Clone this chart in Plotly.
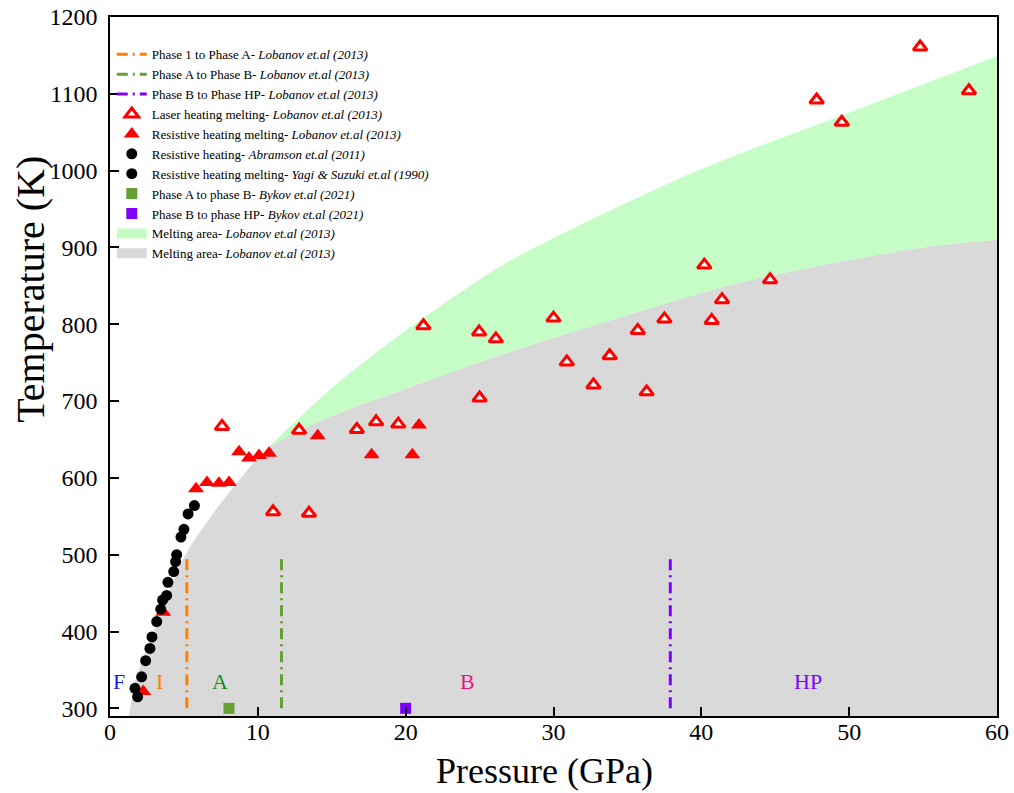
import plotly.graph_objects as go

FONT = "Liberation Serif"

# Laser heating melting - Lobanov (open triangles)
laser_p = [7.58, 11.03, 13.46, 12.79, 16.7, 18.0, 19.5, 21.2, 24.97, 25.0, 26.1, 30.0, 30.9, 32.7,
           33.8, 35.7, 36.3, 37.5, 40.2, 40.7, 41.4, 44.65, 47.8, 49.5, 54.8, 58.1]
laser_t = [667, 556, 554, 662, 663, 673, 670, 798, 790, 704, 781, 808, 751, 721,
           759, 792, 712, 807, 877, 805, 832, 858, 1092, 1063, 1161, 1104]

# Resistive heating melting - Lobanov (filled triangles)
res_p = [2.25, 3.6, 5.82, 6.56, 7.37, 8.05, 8.73, 9.4, 10.08, 10.76, 14.05, 17.7, 20.45, 20.9]
res_t = [322, 425, 586, 594, 593, 594, 634, 626, 629, 632, 655, 630, 630, 669]

# Resistive heating - Abramson (2011)
abr_p = [5.71, 5.28, 5.0, 4.8, 4.51, 4.44, 4.31, 3.92, 3.83]
abr_t = [564, 553, 533, 523, 500, 491, 478, 464, 447]

# Resistive heating melting - Yagi & Suzuki (1990)
yagi_p = [3.56, 3.43, 3.16, 2.84, 2.7, 2.41, 2.14, 1.69, 1.87]
yagi_t = [441, 429, 413, 393, 378, 362, 341, 326, 315]

# Bykov (2021) transitions
bykov_ab_p, bykov_ab_t = [8.05], [300]
bykov_bhp_p, bykov_bhp_t = [20.0], [300]

# Phase boundaries (vertical lines)
line_1a_p, line_ab_p, line_bhp_p = 5.2, 11.6, 37.9
line_t = [300, 500]

# Melting areas (boundaries)
gray_p = [1.3, 1.5, 1.7, 2.2, 2.93, 4.0, 5.18, 7.0, 8.8, 10.8, 14.0, 17.4, 19.6, 26.4, 30.0,
          39.9, 43.5, 50.1, 55.0, 60.0]
gray_t = [290, 312, 334, 362, 398, 452, 502, 554, 598, 641, 672, 698, 713, 760, 782,
          840, 858, 884, 900, 910]
green_p = [10.8, 14.9, 19.6, 23.0, 26.4, 29.8, 39.9, 50.1, 60.0]
green_t = [641, 715, 786, 832, 875, 910, 1001, 1076, 1149]

# Phase labels
lab_text = ["F", "I", "A", "B", "HP"]
lab_p = [0.61, 3.38, 7.44, 24.15, 47.2]
lab_t = [335, 335, 335, 335, 335]
lab_col = ["#1a1aff", "#ff8000", "#1e8c1e", "#e8197d", "#8000ff"]

x_ticks = [0, 10, 20, 30, 40, 50, 60]
y_ticks = [300, 400, 500, 600, 700, 800, 900, 1000, 1100, 1200]
x_title = "Pressure (GPa)"
y_title = "Temperature (K)"

GRAY, GREEN = "#d9d9d9", "#c6fcc6"

fig = go.Figure()

# gray melting area
fig.add_trace(go.Scatter(
    x=gray_p, y=gray_t, fill="tozeroy", mode="lines",
    line=dict(width=0.5, color=GRAY, shape="spline", smoothing=0.8), fillcolor=GRAY,
    showlegend=False, hoverinfo="skip"))
# helper: gray boundary above 10.8 GPa (invisible)
gi = [i for i, p in enumerate(gray_p) if p >= 10.8]
fig.add_trace(go.Scatter(
    x=[gray_p[i] for i in gi], y=[gray_t[i] for i in gi], mode="lines",
    line=dict(width=0, color="rgba(0,0,0,0)", shape="spline", smoothing=0.8),
    showlegend=False, hoverinfo="skip"))
# green melting area
fig.add_trace(go.Scatter(
    x=green_p, y=green_t, fill="tonexty", mode="lines",
    line=dict(width=0.5, color=GREEN, shape="spline", smoothing=0.8), fillcolor=GREEN,
    showlegend=False, hoverinfo="skip"))

dash = "11px,5px,2px,5px"
for xp, col, nm in [(line_1a_p, "#ff8000", "Phase 1 to Phase A- "),
                    (line_ab_p, "#64a032", "Phase A to Phase B- "),
                    (line_bhp_p, "#8000ff", "Phase B to Phase HP- ")]:
    fig.add_trace(go.Scatter(
        x=[xp, xp], y=line_t, mode="lines",
        line=dict(color=col, width=3, dash=dash),
        name=nm + "<i>Lobanov et.al (2013)</i>"))

fig.add_trace(go.Scatter(
    x=laser_p, y=laser_t, mode="markers",
    marker=dict(symbol="triangle-up", size=12, color="white", line=dict(color="#ff0000", width=3)),
    name="Laser heating melting- <i>Lobanov et.al (2013)</i>"))
fig.add_trace(go.Scatter(
    x=res_p, y=res_t, mode="markers",
    marker=dict(symbol="triangle-up", size=14, color="#ff0000"),
    name="Resistive heating melting- <i>Lobanov et.al (2013)</i>"))
fig.add_trace(go.Scatter(
    x=abr_p, y=abr_t, mode="markers",
    marker=dict(symbol="circle", size=11, color="black"),
    name="Resistive heating- <i>Abramson et.al (2011)</i>"))
fig.add_trace(go.Scatter(
    x=yagi_p, y=yagi_t, mode="markers",
    marker=dict(symbol="circle", size=11, color="black"),
    name="Resistive heating melting- <i>Yagi &amp; Suzuki et.al (1990)</i>"))
fig.add_trace(go.Scatter(
    x=bykov_ab_p, y=bykov_ab_t, mode="markers",
    marker=dict(symbol="square", size=11, color="#64a032"),
    name="Phase A to phase B- <i>Bykov et.al (2021)</i>"))
fig.add_trace(go.Scatter(
    x=bykov_bhp_p, y=bykov_bhp_t, mode="markers",
    marker=dict(symbol="square", size=11, color="#8000ff"),
    name="Phase B to phase HP- <i>Bykov et.al (2021)</i>"))
# legend entries for the two melting areas
for col in [GREEN, GRAY]:
    fig.add_trace(go.Scatter(
        x=[None], y=[None], mode="lines", line=dict(color=col, width=13),
        name="Melting area- <i>Lobanov et.al (2013)</i>"))

for t, p, tt, c in zip(lab_text, lab_p, lab_t, lab_col):
    fig.add_annotation(x=p, y=tt, text=t, showarrow=False,
                       font=dict(family=FONT, size=22, color=c))

# axis titles
fig.add_annotation(x=0.4904, y=-0.0785, xref="paper", yref="paper", text=x_title, showarrow=False,
                   xanchor="center", yanchor="middle", font=dict(family=FONT, size=36, color="black"))
fig.add_annotation(x=-0.09, y=0.61, xref="paper", yref="paper", text=y_title, showarrow=False,
                   textangle=-90, xanchor="center", yanchor="middle",
                   font=dict(family=FONT, size=40, color="black"))

axis_common = dict(showline=True, linecolor="black", linewidth=1.5, mirror=True,
                   ticks="inside", ticklen=9, tickwidth=1.5, tickcolor="black",
                   showgrid=False, zeroline=False, automargin=False, ticklabeloverflow="allow",
                   tickfont=dict(family=FONT, size=24, color="black"))
fig.update_xaxes(range=[0, 60], tickvals=x_ticks, ticklabelstandoff=-7, **axis_common)
fig.update_yaxes(range=[290, 1200], tickvals=y_ticks, ticklabelstandoff=6, **axis_common)

fig.update_layout(
    width=1014, height=793,
    margin=dict(l=110, r=17, t=17, b=77),
    plot_bgcolor="white", paper_bgcolor="white",
    font=dict(family=FONT, color="black"),
    legend=dict(x=0.002, y=0.968, xanchor="left", yanchor="top", traceorder="normal",
                bgcolor="rgba(0,0,0,0)", font=dict(family=FONT, size=13, color="black"),
                tracegroupgap=0, itemwidth=30),
)

# remove the default 8px page margin so the figure fills the window exactly; hide the modebar
fig.write_html("out.html", config={"displayModeBar": False},
               post_script="document.body.style.margin='0px';")
